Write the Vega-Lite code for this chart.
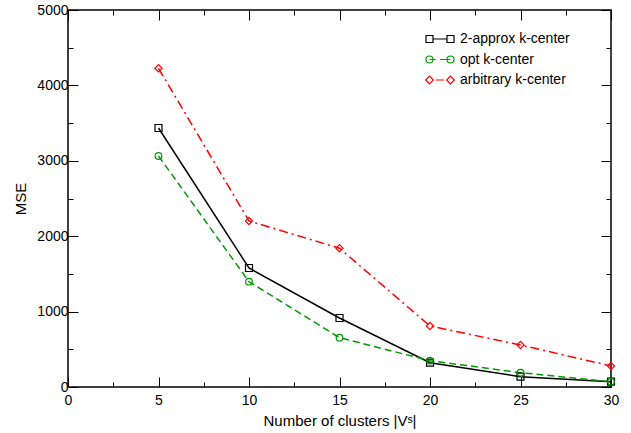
{
  "$schema": "https://vega.github.io/schema/vega-lite/v6.json",
  "autosize": "none",
  "width": 543,
  "height": 377,
  "padding": {"left": 68, "top": 10, "right": 20, "bottom": 46},
  "background": "white",
  "config": {
    "font": "Liberation Sans",
    "view": {"stroke": "black", "strokeWidth": 1.5},
    "axis": {"domain": false, "grid": false, "labelFont": "Liberation Sans", "titleFont": "Liberation Sans", "labelFontSize": 14, "titleFontSize": 15, "titleFontWeight": "normal", "labelColor": "black", "titleColor": "black", "tickColor": "black", "tickWidth": 1}
  },
  "data": {"values": [
    {"series": "2-approx k-center", "k": 5, "mse": 3435},
    {"series": "2-approx k-center", "k": 10, "mse": 1578},
    {"series": "2-approx k-center", "k": 15, "mse": 915},
    {"series": "2-approx k-center", "k": 20, "mse": 322},
    {"series": "2-approx k-center", "k": 25, "mse": 137},
    {"series": "2-approx k-center", "k": 30, "mse": 70},
    {"series": "opt k-center", "k": 5, "mse": 3064},
    {"series": "opt k-center", "k": 10, "mse": 1397},
    {"series": "opt k-center", "k": 15, "mse": 654},
    {"series": "opt k-center", "k": 20, "mse": 349},
    {"series": "opt k-center", "k": 25, "mse": 190},
    {"series": "opt k-center", "k": 30, "mse": 70},
    {"series": "arbitrary k-center", "k": 5, "mse": 4227},
    {"series": "arbitrary k-center", "k": 10, "mse": 2202},
    {"series": "arbitrary k-center", "k": 15, "mse": 1840},
    {"series": "arbitrary k-center", "k": 20, "mse": 809},
    {"series": "arbitrary k-center", "k": 25, "mse": 557},
    {"series": "arbitrary k-center", "k": 30, "mse": 279}
  ]},
  "layer": [
    {
      "transform": [{"filter": "datum.series === '2-approx k-center'"}],
      "mark": {"type": "line", "strokeWidth": 1.5, "color": "black"},
      "encoding": {
        "x": {"field": "k", "type": "quantitative", "scale": {"domain": [0, 30], "nice": false},
          "axis": {"orient": "bottom", "title": "Number of clusters |Vˢ|", "values": [0,2.5,5,7.5,10,12.5,15,17.5,20,22.5,25,27.5,30],
            "labelExpr": "datum.value % 5 === 0 ? datum.label : ''",
            "tickSize": {"condition": {"test": "datum.value % 5 === 0", "value": -10}, "value": -5},
            "labelPadding": 16, "titlePadding": 6, "labelFlush": false}},
        "y": {"field": "mse", "type": "quantitative", "scale": {"domain": [0, 5000], "nice": false},
          "axis": {"orient": "left", "title": "MSE", "values": [0,500,1000,1500,2000,2500,3000,3500,4000,4500,5000],
            "labelExpr": "datum.value % 1000 === 0 ? datum.label : ''",
            "format": "d",
            "tickSize": {"condition": {"test": "datum.value % 1000 === 0", "value": -10}, "value": -5},
            "labelPadding": 10, "titlePadding": 8}}
      }
    },
    {
      "transform": [{"filter": "datum.series === 'opt k-center'"}],
      "mark": {"type": "line", "strokeWidth": 1.5, "color": "#009900", "strokeDash": [7, 4]},
      "encoding": {
        "x": {"field": "k", "type": "quantitative", "axis": null},
        "y": {"field": "mse", "type": "quantitative", "axis": null}
      }
    },
    {
      "transform": [{"filter": "datum.series === 'arbitrary k-center'"}],
      "mark": {"type": "line", "strokeWidth": 1.5, "color": "#ff0000", "strokeDash": [9, 4, 2, 4]},
      "encoding": {
        "x": {"field": "k", "type": "quantitative", "axis": null},
        "y": {"field": "mse", "type": "quantitative", "axis": null}
      }
    },
    {
      "transform": [{"filter": "datum.series === '2-approx k-center'"}],
      "mark": {"type": "point", "shape": "square", "filled": false, "strokeWidth": 1.2, "size": 49, "opacity": 1, "color": "black"},
      "encoding": {
        "x": {"field": "k", "type": "quantitative", "axis": {"orient": "top", "title": null, "labels": false, "values": [0,2.5,5,7.5,10,12.5,15,17.5,20,22.5,25,27.5,30],
            "tickSize": {"condition": {"test": "datum.value % 5 === 0", "value": -10}, "value": -5}}},
        "y": {"field": "mse", "type": "quantitative", "axis": {"orient": "right", "title": null, "labels": false, "values": [0,500,1000,1500,2000,2500,3000,3500,4000,4500,5000],
            "tickSize": {"condition": {"test": "datum.value % 1000 === 0", "value": -10}, "value": -5}}}
      }
    },
    {
      "transform": [{"filter": "datum.series === 'opt k-center'"}],
      "mark": {"type": "point", "shape": "circle", "filled": false, "strokeWidth": 1.2, "size": 44, "opacity": 1, "color": "#009900"},
      "encoding": {
        "x": {"field": "k", "type": "quantitative", "axis": null},
        "y": {"field": "mse", "type": "quantitative", "axis": null}
      }
    },
    {
      "transform": [{"filter": "datum.series === 'arbitrary k-center'"}],
      "mark": {"type": "point", "shape": "diamond", "filled": false, "strokeWidth": 1.2, "size": 52, "opacity": 1, "color": "#ff0000"},
      "encoding": {
        "x": {"field": "k", "type": "quantitative", "axis": null},
        "y": {"field": "mse", "type": "quantitative", "axis": null}
      }
    },
    {
      "transform": [{"filter": "false"}],
      "mark": {"type": "point", "filled": false, "strokeWidth": 1.2, "size": 196, "opacity": 1},
      "encoding": {
        "color": {"field": "series", "type": "nominal",
          "scale": {"domain": ["2-approx k-center", "opt k-center", "arbitrary k-center"], "range": ["black", "#009900", "#ff0000"]},
          "legend": {"title": null, "orient": "none", "legendX": 364, "legendY": 21, "labelFontSize": 14, "labelFont": "Liberation Sans", "labelColor": "black", "symbolStrokeWidth": 1.2, "rowPadding": 5.5, "symbolSize": 196, "labelOffset": 12, "padding": 0}},
        "shape": {"field": "series", "type": "nominal",
          "scale": {"domain": ["2-approx k-center", "opt k-center", "arbitrary k-center"],
            "range": [
              "M-2,-0.5H-1V0.5H-2Z M-1,0H1 M1,-0.5H2V0.5H1Z",
              "M-2,0A0.5,0.5 0 1,1 -1,0A0.5,0.5 0 1,1 -2,0Z M-1.5,0H-0.6 M0,0H1.5 M1,0A0.5,0.5 0 1,1 2,0A0.5,0.5 0 1,1 1,0Z",
              "M-1.5,-0.55L-0.95,0L-1.5,0.55L-2.05,0Z M-0.6,0H0.6 M1.5,-0.55L2.05,0L1.5,0.55L0.95,0Z"
            ]}}
      }
    }
  ]
}
